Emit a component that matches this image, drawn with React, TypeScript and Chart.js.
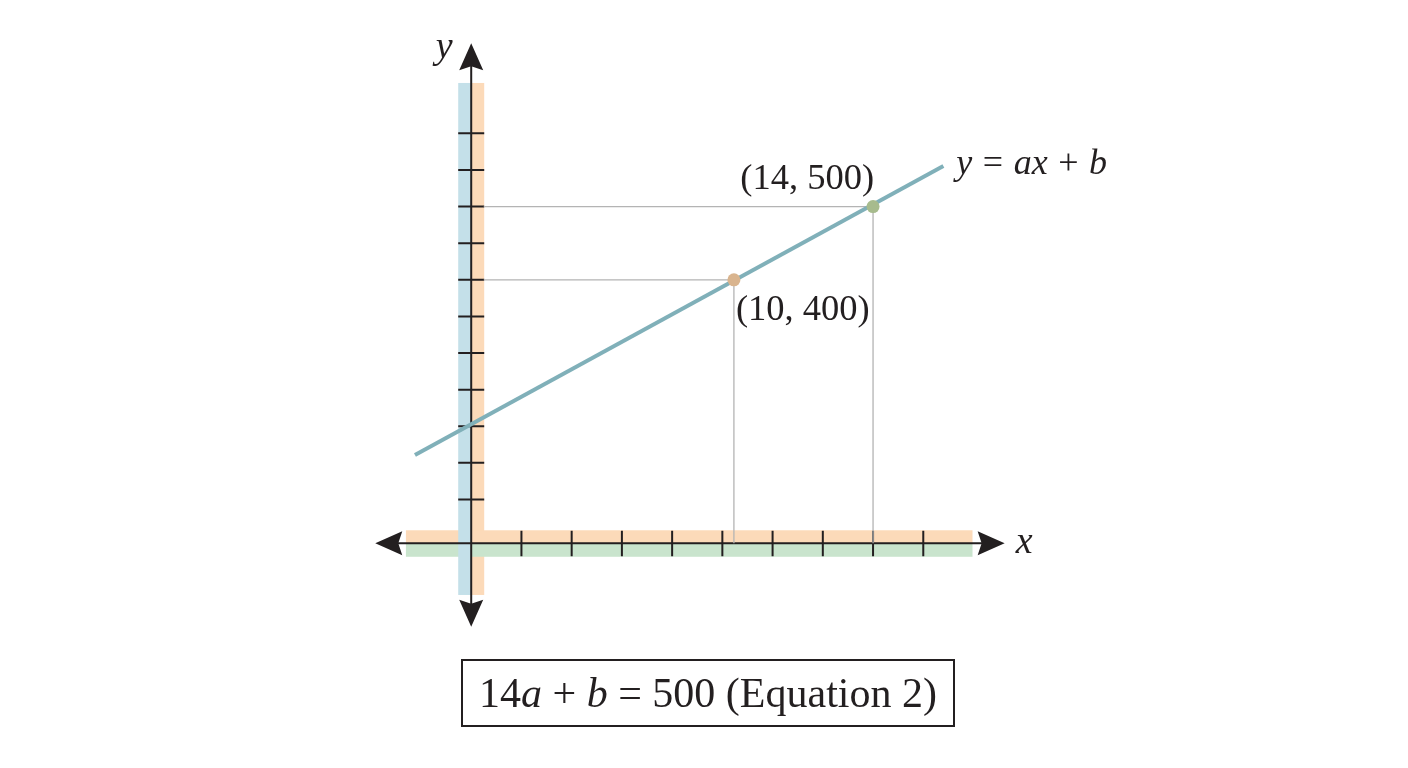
import React, { useEffect, useRef } from "react";
import { Chart, registerables } from "chart.js";

Chart.register(...registerables);

// ---------------- data (schematic units: x counts tick marks from the y-axis, y in drawn value units)
const xTickValues = [1, 2, 3, 4, 5, 6, 7, 8, 9];
const yTickValues = [100, 150, 200, 250, 300, 350, 400, 450, 500, 550, 600];
const pointXs = [5.23, 8];
const pointYs = [400, 500];
const pointLabels = ["(10, 400)", "(14, 500)"];
const lineXs = [-1.12, 9.4];
const lineYs = [160.8, 555.4];
const lineLabel = [
  { t: "y", i: true },
  { t: "=", i: false },
  { t: "ax", i: true },
  { t: "+", i: false },
  { t: "b", i: true },
];
const equationParts = [
  { t: "14", i: false },
  { t: "a", i: true },
  { t: " + ", i: false },
  { t: "b", i: true },
  { t: " = 500 (Equation 2)", i: false },
];
const xAxisName = "x";
const yAxisName = "y";

// axis geometry in data units
const yAxisAtX = 0;
const xAxisAtY = 40.2;
const xAxisTips = [-1.91, 10.62];
const yAxisTips = [-73.7, 723];
const xBandRange = [-1.3, 9.98];
const yBandRange = [-30.4, 668.8];
const guideStartX = 0.25;

// ---------------- layout / style
const W = 1408;
const H = 768;
const X_MIN = -9.381;
const X_MAX = 18.65;
const Y_MIN = -266.7;
const Y_MAX = 782.1;
const INK = "#231f20";
const FONT = "'Liberation Serif', 'Times New Roman', serif";
const LINE_COLOR = "#80b0b9";
const POINT_COLORS = ["#d9b48e", "#a7bb8d"];
const GUIDE_COLOR = "#b4b4b4";
const BAND_BLUE = "#c4e0e9";
const BAND_ORANGE = "#fcdab9";
const BAND_GREEN = "#c9e4cd";
const BAND = 13;
const TICK_HALF = 13;

function drawArrow(ctx: CanvasRenderingContext2D, tx: number, ty: number, dx: number, dy: number) {
  const len = 27;
  const half = 12;
  const notch = 4;
  const px = -dy;
  const py = dx;
  const bx = tx - dx * len;
  const by = ty - dy * len;
  ctx.beginPath();
  ctx.moveTo(tx, ty);
  ctx.lineTo(bx + px * half, by + py * half);
  ctx.lineTo(bx + dx * notch, by + dy * notch);
  ctx.lineTo(bx - px * half, by - py * half);
  ctx.closePath();
  ctx.fillStyle = INK;
  ctx.fill();
}

function drawRich(
  ctx: CanvasRenderingContext2D,
  segs: { t: string; i: boolean }[],
  x: number,
  y: number,
  size: number,
  align: "left" | "center" | "right",
  gap = 0
) {
  const fontOf = (it: boolean) => `${it ? "italic " : ""}${size}px ${FONT}`;
  let total = 0;
  const widths = segs.map((s) => {
    ctx.font = fontOf(s.i);
    const w = ctx.measureText(s.t).width;
    total += w;
    return w;
  });
  total += gap * (segs.length - 1);
  let cx = align === "left" ? x : align === "center" ? x - total / 2 : x - total;
  ctx.textAlign = "left";
  ctx.textBaseline = "alphabetic";
  ctx.fillStyle = INK;
  segs.forEach((s, k) => {
    ctx.font = fontOf(s.i);
    ctx.fillText(s.t, cx, y);
    cx += widths[k] + gap;
  });
}

const axesPlugin = {
  id: "crossAxes",
  beforeDatasetsDraw(chart: any) {
    const ctx: CanvasRenderingContext2D = chart.ctx;
    const xs = chart.scales.x;
    const ys = chart.scales.y;
    const ax = xs.getPixelForValue(yAxisAtX);
    const ay = ys.getPixelForValue(xAxisAtY);
    ctx.save();
    // bands
    const vTop = ys.getPixelForValue(yBandRange[1]);
    const vBot = ys.getPixelForValue(yBandRange[0]);
    const hL = xs.getPixelForValue(xBandRange[0]);
    const hR = xs.getPixelForValue(xBandRange[1]);
    ctx.fillStyle = BAND_ORANGE;
    ctx.fillRect(ax, vTop, BAND, vBot - vTop);
    ctx.fillRect(hL, ay - BAND, hR - hL, BAND);
    ctx.fillStyle = BAND_GREEN;
    ctx.fillRect(hL, ay, hR - hL, BAND + 0.5);
    ctx.fillStyle = BAND_BLUE;
    ctx.fillRect(ax - BAND, vTop, BAND, vBot - vTop);

    // axis lines
    ctx.strokeStyle = INK;
    ctx.lineWidth = 2;
    const xl = xs.getPixelForValue(xAxisTips[0]);
    const xr = xs.getPixelForValue(xAxisTips[1]);
    const yt = ys.getPixelForValue(yAxisTips[1]);
    const yb = ys.getPixelForValue(yAxisTips[0]);
    ctx.beginPath();
    ctx.moveTo(xl + 20, ay);
    ctx.lineTo(xr - 20, ay);
    ctx.moveTo(ax, yt + 20);
    ctx.lineTo(ax, yb - 20);
    ctx.stroke();

    // ticks
    ctx.beginPath();
    xTickValues.forEach((v) => {
      const p = xs.getPixelForValue(v);
      ctx.moveTo(p, ay - TICK_HALF + 0.5);
      ctx.lineTo(p, ay + TICK_HALF);
    });
    yTickValues.forEach((v) => {
      const p = ys.getPixelForValue(v);
      ctx.moveTo(ax - TICK_HALF, p);
      ctx.lineTo(ax + TICK_HALF, p);
    });
    ctx.stroke();

    // arrows
    drawArrow(ctx, xl, ay, -1, 0);
    drawArrow(ctx, xr, ay, 1, 0);
    drawArrow(ctx, ax, yt, 0, -1);
    drawArrow(ctx, ax, yb, 0, 1);
    ctx.restore();
  },
};

const labelsPlugin = {
  id: "labels",
  afterDatasetsDraw(chart: any) {
    const ctx: CanvasRenderingContext2D = chart.ctx;
    const xs = chart.scales.x;
    const ys = chart.scales.y;
    ctx.save();
    const pA = { x: xs.getPixelForValue(pointXs[0]), y: ys.getPixelForValue(pointYs[0]) };
    const pB = { x: xs.getPixelForValue(pointXs[1]), y: ys.getPixelForValue(pointYs[1]) };
    drawRich(ctx, [{ t: pointLabels[0], i: false }], pA.x + 2, pA.y + 40, 36.5, "left");
    drawRich(ctx, [{ t: pointLabels[1], i: false }], pB.x + 1, pB.y - 18, 36.5, "right");
    const le = { x: xs.getPixelForValue(lineXs[1]), y: ys.getPixelForValue(lineYs[1]) };
    drawRich(ctx, lineLabel, le.x + 13, le.y + 8, 36, "left", 10.5);
    const ax = xs.getPixelForValue(yAxisAtX);
    const ay = ys.getPixelForValue(xAxisAtY);
    const yt = ys.getPixelForValue(yAxisTips[1]);
    const xr = xs.getPixelForValue(xAxisTips[1]);
    drawRich(ctx, [{ t: yAxisName, i: true }], ax - 27, yt + 15, 38, "center");
    drawRich(ctx, [{ t: xAxisName, i: true }], xr + 11, ay + 10, 38, "left");
    ctx.restore();
  },
};

export default function App() {
  const ref = useRef<HTMLCanvasElement>(null);
  useEffect(() => {
    const canvas = ref.current!;
    const guide = (k: number) => ({
      data: [
        { x: guideStartX, y: pointYs[k] },
        { x: pointXs[k], y: pointYs[k] },
        { x: pointXs[k], y: xAxisAtY },
      ],
      showLine: true,
      borderColor: GUIDE_COLOR,
      borderWidth: 1.3,
      pointRadius: 0,
      fill: false,
    });
    const chart = new Chart(canvas, {
      type: "scatter",
      data: {
        datasets: [
          {
            data: pointXs.map((x, k) => ({ x, y: pointYs[k] })),
            backgroundColor: POINT_COLORS,
            borderWidth: 0,
            pointRadius: 6.5,
          },
          {
            data: lineXs.map((x, k) => ({ x, y: lineYs[k] })),
            showLine: true,
            borderColor: LINE_COLOR,
            borderWidth: 4,
            pointRadius: 0,
            fill: false,
          },
          guide(0),
          guide(1),
        ] as any,
      },
      options: {
        responsive: false,
        maintainAspectRatio: false,
        animation: false,
        events: [],
        layout: { padding: 0, autoPadding: false },
        plugins: {
          legend: { display: false },
          tooltip: { enabled: false },
          title: { display: false },
        },
        scales: {
          x: { type: "linear", min: X_MIN, max: X_MAX, display: false },
          y: { type: "linear", min: Y_MIN, max: Y_MAX, display: false },
        },
      } as any,
      plugins: [axesPlugin, labelsPlugin],
    });
    return () => chart.destroy();
  }, []);

  return (
    <div style={{ position: "fixed", left: 0, top: 0, width: W, height: H, background: "#fff" }}>
      <canvas
        ref={ref}
        width={W}
        height={H}
        style={{ position: "absolute", left: 0, top: 0, width: W, height: H }}
      />
      <div
        style={{
          position: "absolute",
          left: 461,
          top: 659,
          width: 494,
          height: 68,
          boxSizing: "border-box",
          border: `2px solid ${INK}`,
          fontFamily: FONT,
          fontSize: 42,
          lineHeight: "64px",
          textAlign: "center",
          color: INK,
          whiteSpace: "nowrap",
        }}
      >
        {equationParts.map((p, k) =>
          p.i ? <i key={k}>{p.t}</i> : <span key={k}>{p.t}</span>
        )}
      </div>
    </div>
  );
}
